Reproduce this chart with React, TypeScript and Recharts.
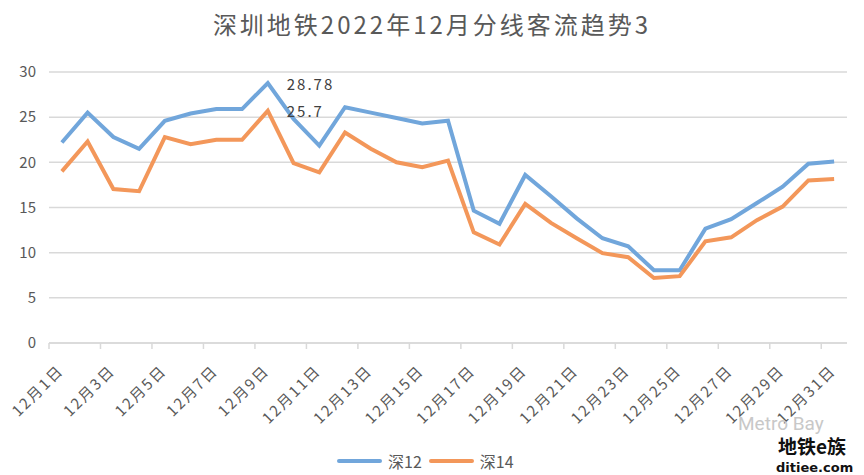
import React from "react";
import { LineChart, Line, XAxis, YAxis, CartesianGrid } from "recharts";

const categories = [
  "12月1日", "12月2日", "12月3日", "12月4日", "12月5日", "12月6日", "12月7日", "12月8日",
  "12月9日", "12月10日", "12月11日", "12月12日", "12月13日", "12月14日", "12月15日", "12月16日",
  "12月17日", "12月18日", "12月19日", "12月20日", "12月21日", "12月22日", "12月23日", "12月24日",
  "12月25日", "12月26日", "12月27日", "12月28日", "12月29日", "12月30日", "12月31日",
];

const shen12 = [
  22.2, 25.5, 22.8, 21.5, 24.6, 25.4, 25.9, 25.9, 28.78, 24.8, 21.85, 26.1, 25.5, 24.9, 24.3, 24.6,
  14.65, 13.2, 18.6, 16.25, 13.8, 11.6, 10.7, 8.05, 8.05, 12.65, 13.7, 15.5, 17.3, 19.85, 20.1,
];

const shen14 = [
  19.0, 22.3, 17.05, 16.8, 22.8, 22.0, 22.5, 22.5, 25.7, 19.9, 18.9, 23.3, 21.5, 20.0, 19.45, 20.2,
  12.25, 10.9, 15.4, 13.3, 11.6, 9.95, 9.5, 7.2, 7.4, 11.25, 11.7, 13.6, 15.1, 18.0, 18.15,
];

const yTicks = [0, 5, 10, 15, 20, 25, 30];
const labeledIndex = 8;

const data = categories.map((c, i) => ({ date: c, s12: shen12[i], s14: shen14[i] }));

const W = 864;
const H = 475;
const M = { top: 72, right: 17, left: 0, bottom: 0 };
const Y_W = 49;
const X_H = 132;
const PLOT_W = W - M.left - M.right - Y_W;
const HALF_BAND = PLOT_W / categories.length / 2;

const BLUE = "#71A6DB";
const ORANGE = "#F3975A";
const GRID = "#D9D9D9";
const TEXT = "#595959";
const FONT = "'Noto Sans CJK SC', 'Noto Sans', sans-serif";

const XTick = (props: any) => {
  const { x, y, payload } = props;
  const tx = x - 2;
  const ty = y + 24;
  return (
    <g>
      <line x1={x - HALF_BAND} x2={x - HALF_BAND} y1={y} y2={y + 6} stroke={GRID} strokeWidth={1.5} />
      <text
        x={tx}
        y={ty}
        transform={`rotate(-45, ${tx}, ${ty})`}
        textAnchor="end"
        dominantBaseline="central"
        fill={TEXT}
        fontSize={15}
        letterSpacing={2}
        fontFamily={FONT}
      >
        {payload.value}
      </text>
    </g>
  );
};

const PointLabel = (props: any) => {
  const { x, y, value, index } = props;
  if (index !== labeledIndex) return null;
  return (
    <text
      x={x + 19}
      y={y}
      dominantBaseline="central"
      fill="#404040"
      fontSize={15}
      letterSpacing={2}
      fontFamily={FONT}
    >
      {value}
    </text>
  );
};

export default function App() {
  return (
    <div style={{ position: "absolute", left: 0, top: 0, width: W, height: H, background: "#fff", fontFamily: FONT }}>
      <div
        style={{
          position: "absolute",
          left: 0,
          top: 8,
          width: W,
          textAlign: "center",
          fontSize: 24,
          letterSpacing: 3,
          color: TEXT,
          lineHeight: "32px",
        }}
      >
        深圳地铁2022年12月分线客流趋势3
      </div>
      <LineChart width={W} height={H} data={data} margin={M}>
        <CartesianGrid vertical={false} stroke={GRID} strokeWidth={1.5} />
        <XAxis
          dataKey="date"
          interval={1}
          height={X_H}
          padding={{ left: HALF_BAND, right: HALF_BAND }}
          axisLine={{ stroke: GRID, strokeWidth: 1.5 }}
          tickLine={false}
          tickSize={0}
          tickMargin={0}
          tick={<XTick />}
        />
        <YAxis
          width={Y_W}
          domain={[0, 30]}
          ticks={yTicks}
          axisLine={false}
          tickLine={false}
          tickSize={0}
          tickMargin={13}
          tick={{ fill: TEXT, fontSize: 15, fontFamily: FONT }}
        />
        <Line
          type="linear"
          dataKey="s12"
          stroke={BLUE}
          strokeWidth={4}
          dot={false}
          isAnimationActive={false}
          label={<PointLabel />}
        />
        <Line
          type="linear"
          dataKey="s14"
          stroke={ORANGE}
          strokeWidth={4}
          dot={false}
          isAnimationActive={false}
          label={<PointLabel />}
        />
      </LineChart>
      <div
        style={{
          position: "absolute",
          left: 337,
          top: 450,
          height: 22,
          display: "flex",
          alignItems: "center",
          fontSize: 16,
          color: TEXT,
        }}
      >
        <span style={{ display: "inline-block", width: 45, height: 4, borderRadius: 2, background: BLUE }} />
        <span style={{ marginLeft: 6, marginRight: 7 }}>深12</span>
        <span style={{ display: "inline-block", width: 45, height: 4, borderRadius: 2, background: ORANGE }} />
        <span style={{ marginLeft: 6 }}>深14</span>
      </div>
      <div
        style={{
          position: "absolute",
          left: 738,
          top: 413,
          fontSize: 19,
          color: "#C8C8C8",
          fontFamily: "Roboto, sans-serif",
          lineHeight: "22px",
        }}
      >
        Metro Bay
      </div>
      <div
        style={{
          position: "absolute",
          left: 778,
          top: 435,
          fontSize: 19,
          fontWeight: 700,
          color: "#111",
          lineHeight: "22px",
        }}
      >
        地铁e族
      </div>
      <div
        style={{
          position: "absolute",
          left: 776,
          top: 461,
          fontSize: 13,
          fontWeight: 700,
          color: "#111",
          fontFamily: "'DejaVu Sans', sans-serif",
          lineHeight: "14px",
        }}
      >
        ditiee.com
      </div>
    </div>
  );
}
